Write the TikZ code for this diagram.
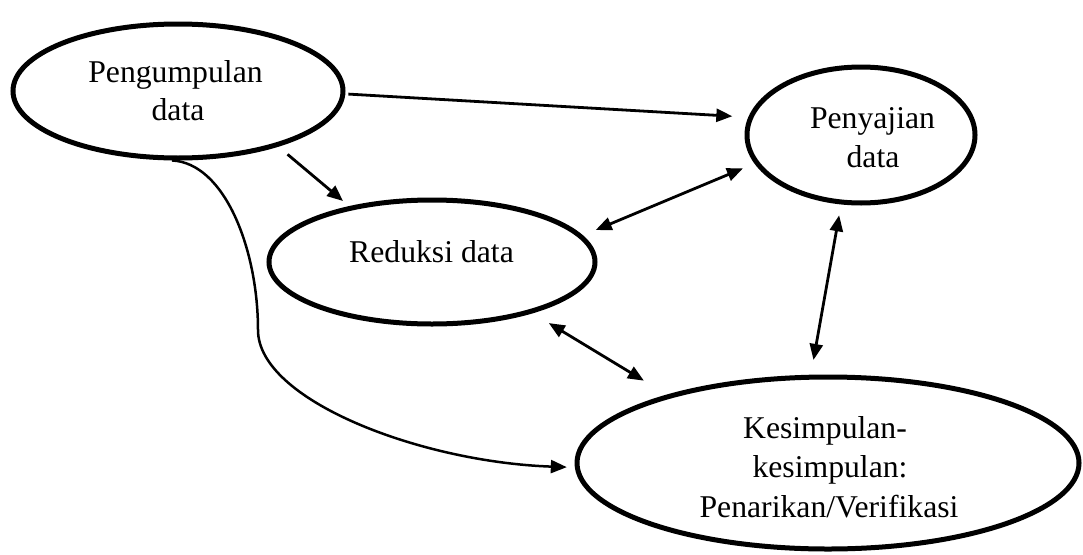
\documentclass[tikz,border=0pt]{standalone}
\usepackage{fontspec}
\setmainfont{Liberation Serif}
\usetikzlibrary{shapes.geometric,arrows.meta}
\begin{document}
\begin{tikzpicture}[x=1pt,y=-1pt,
  bubble/.style={ellipse, draw, line width=5pt, inner sep=0pt},
  lbl/.style={anchor=base, inner sep=0pt, font=\fontsize{31.7}{38}\selectfont},
  con/.style={line width=2.8pt, -{Triangle[length=16pt,width=13pt]}},
  bicon/.style={line width=2.8pt, {Triangle[length=16pt,width=13pt]}-{Triangle[length=16pt,width=13pt]}}]
\useasboundingbox (0,0) rectangle (1083,554);
% ellipses
\node[bubble, minimum width=330pt, minimum height=134pt] (e1) at (178,91) {};
\node[bubble, minimum width=228pt, minimum height=136pt] (e2) at (861,135) {};
\node[bubble, minimum width=326pt, minimum height=124pt] (e3) at (432,262) {};
\node[bubble, minimum width=502pt, minimum height=172pt] (e4) at (828,463) {};
% labels
\node[lbl] (t1a) at (175.5,82) {Pengumpulan};
\node[lbl] (t1b) at (178,120) {data};
\node[lbl] (t2a) at (872.5,128) {Penyajian};
\node[lbl] (t2b) at (873,167) {data};
\node[lbl] (t3) at (431.5,262) {Reduksi data};
\node[lbl] (t4a) at (825,438) {Kesimpulan-};
\node[lbl] (t4b) at (830,477) {kesimpulan:};
\node[lbl] (t4c) at (829,517) {Penarikan/Verifikasi};
% connectors
\draw[con, shorten <=3pt, shorten >=16pt] (e1.-1.3) -- (e2.171);
\draw[con, shorten <=12pt, shorten >=8pt] (e1.-29) -- (e3.146);
\draw[bicon, shorten <=14pt, shorten >=12.5pt] (e3.10.4) -- (e2.195.8);
\draw[bicon, shorten <=11pt, shorten >=15pt] (e2.254.6) -- (e4.101.5);
\draw[bicon, shorten <=19pt, shorten >=27pt] (e3.-27.35) -- (e4.157.2);
\draw[con, line width=2.5pt, shorten >=8pt] (e1.265) .. controls (225,163) and (258,250) .. (258,330) .. controls (258,400) and (420,462) .. (e4.181);
\end{tikzpicture}
\end{document}
